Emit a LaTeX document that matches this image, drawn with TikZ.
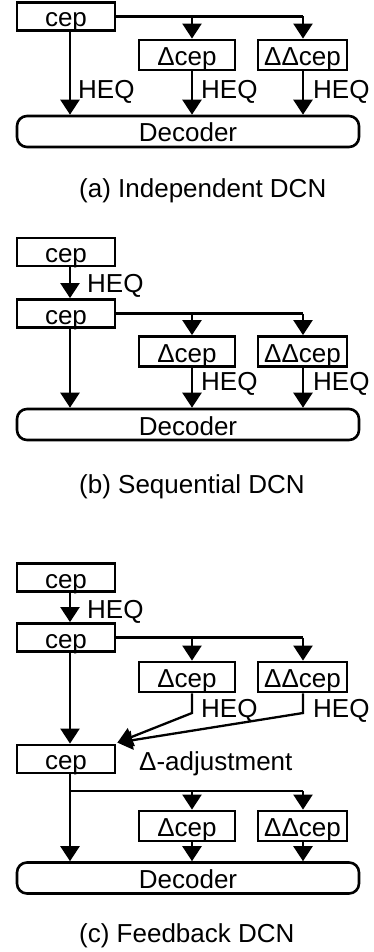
\documentclass[tikz,border=0pt]{standalone}
\usepackage{fontspec}
\setmainfont{Liberation Sans}
\usetikzlibrary{arrows.meta}

\tikzset{
  box/.style={draw, line width=2.8pt, inner sep=0pt, minimum height=28pt,
              text height=21pt, text depth=0pt},
  cepbox/.style={box, minimum width=98pt},
  dbox/.style={box, minimum width=96pt, minimum height=30pt},
  ddbox/.style={box, minimum width=89pt, minimum height=30pt},
  decoder/.style={draw, line width=2.6pt, rounded corners=10pt, inner sep=0pt,
                  minimum width=342pt, minimum height=31pt,
                  text height=21pt, text depth=0pt},
  conn/.style={line width=2.3pt},
  arr/.style={conn, -{Triangle[length=15pt,width=19pt]}},
  lbl/.style={anchor=base west, inner sep=0pt},
}

\begin{document}
\begin{tikzpicture}[x=1pt, y=-1pt, font=\fontsize{26pt}{30pt}\selectfont]
\useasboundingbox (0,0) rectangle (374,952);

% ---------- (a) Independent DCN ----------
\node[cepbox] (aC)  at (66,16.5) {cep};
\node[dbox]   (aD1) at (187,55)  {Δcep};
\node[ddbox]  (aD2) at (302.5,55) {ΔΔcep};
\node[decoder] (aDec) at (188,131.5) {Decoder};

\draw[conn] (aC.east) -- ([xshift=0.5pt]aD2.north |- aC.east);
\draw[arr] ([xshift=5pt]aD1.north |- aC.east) -- ([xshift=5pt]aD1.north);
\draw[arr] ([xshift=0.5pt]aD2.north |- aC.east) -- ([xshift=0.5pt]aD2.north);
\draw[arr] ([xshift=4pt]aC.south) -- ([xshift=4pt]aC.south |- aDec.north);
\draw[arr] ([xshift=5pt]aD1.south) -- ([xshift=5pt]aD1.south |- aDec.north);
\draw[arr] ([xshift=0.5pt]aD2.south) -- ([xshift=0.5pt]aD2.south |- aDec.north);

\node[lbl] (aH1) at (78,99)  {HEQ};
\node[lbl] (aH2) at (201,99) {HEQ};
\node[lbl] (aH3) at (313,99) {HEQ};

\node[lbl] (aCap) at (79,197) {(a) Independent DCN};

% ---------- (b) Sequential DCN ----------
\node[cepbox] (bC1) at (66,252) {cep};
\node[cepbox] (bC2) at (66,313.5) {cep};
\node[dbox]   (bD1) at (187,351.5) {Δcep};
\node[ddbox]  (bD2) at (302.5,351.5) {ΔΔcep};
\node[decoder] (bDec) at (188,424.5) {Decoder};

\draw[arr] ([xshift=4pt]bC1.south) -- ([xshift=4pt]bC2.north);
\node[lbl] (bH0) at (87,292) {HEQ};

\draw[conn] (bC2.east) -- ([xshift=0.5pt]bD2.north |- bC2.east);
\draw[arr] ([xshift=5pt]bD1.north |- bC2.east) -- ([xshift=5pt]bD1.north);
\draw[arr] ([xshift=0.5pt]bD2.north |- bC2.east) -- ([xshift=0.5pt]bD2.north);
\draw[arr] ([xshift=4pt]bC2.south) -- ([xshift=4pt]bC2.south |- bDec.north);
\draw[arr] ([xshift=5pt]bD1.south) -- ([xshift=5pt]bD1.south |- bDec.north);
\draw[arr] ([xshift=0.5pt]bD2.south) -- ([xshift=0.5pt]bD2.south |- bDec.north);

\node[lbl] (bH1) at (201,390) {HEQ};
\node[lbl] (bH2) at (313,390) {HEQ};

\node[lbl] (bCap) at (79,493) {(b) Sequential DCN};

% ---------- (c) Feedback DCN ----------
\node[cepbox] (cC1) at (66,577.5) {cep};
\node[cepbox] (cC2) at (66,637.5) {cep};
\node[dbox]   (cD1) at (187,677) {Δcep};
\node[ddbox]  (cD2) at (302.5,677) {ΔΔcep};
\node[cepbox] (cC3) at (66,759) {cep};
\node[dbox]   (cE1) at (187,826) {Δcep};
\node[ddbox]  (cE2) at (302.5,826) {ΔΔcep};
\node[decoder] (cDec) at (188,878) {Decoder};

\draw[arr] ([xshift=4pt]cC1.south) -- ([xshift=4pt]cC2.north);
\node[lbl] (cH0) at (87,618) {HEQ};

\draw[conn] (cC2.east) -- ([xshift=0.5pt]cD2.north |- cC2.east);
\draw[arr] ([xshift=5pt]cD1.north |- cC2.east) -- ([xshift=5pt]cD1.north);
\draw[arr] ([xshift=0.5pt]cD2.north |- cC2.east) -- ([xshift=0.5pt]cD2.north);
\draw[arr] ([xshift=4pt]cC2.south) -- ([xshift=4pt]cC3.north);

% feedback of the equalised deltas into the cepstrum
\coordinate (cK1) at (192,713);
\coordinate (cK2) at (303,713);
\draw[arr] ([xshift=5pt]cD1.south) -- (cK1) -- ([xshift=1pt,yshift=1pt]cC3.north east);
\draw[arr] ([xshift=0.5pt]cD2.south) -- (cK2) -- ([xshift=1pt,yshift=1pt]cC3.north east);
\node[lbl] (cH1) at (201,717) {HEQ};
\node[lbl] (cH2) at (313,717) {HEQ};
\node[lbl] (cAdj) at (139,770) {Δ-adjustment};

\coordinate (cB) at (70,791);
\draw[conn] ([xshift=4pt]cC3.south) -- (cB) -- ([xshift=0.5pt]cE2.north |- cB);
\draw[arr] ([xshift=5pt]cE1.north |- cB) -- ([xshift=5pt]cE1.north);
\draw[arr] ([xshift=0.5pt]cE2.north |- cB) -- ([xshift=0.5pt]cE2.north);
\draw[arr] (cB) -- (cB |- cDec.north);
\draw[arr] ([xshift=5pt]cE1.south) -- ([xshift=5pt]cE1.south |- cDec.north);
\draw[arr] ([xshift=0.5pt]cE2.south) -- ([xshift=0.5pt]cE2.south |- cDec.north);

\node[lbl] (cCap) at (79,942) {(c) Feedback DCN};
\end{tikzpicture}
\end{document}
